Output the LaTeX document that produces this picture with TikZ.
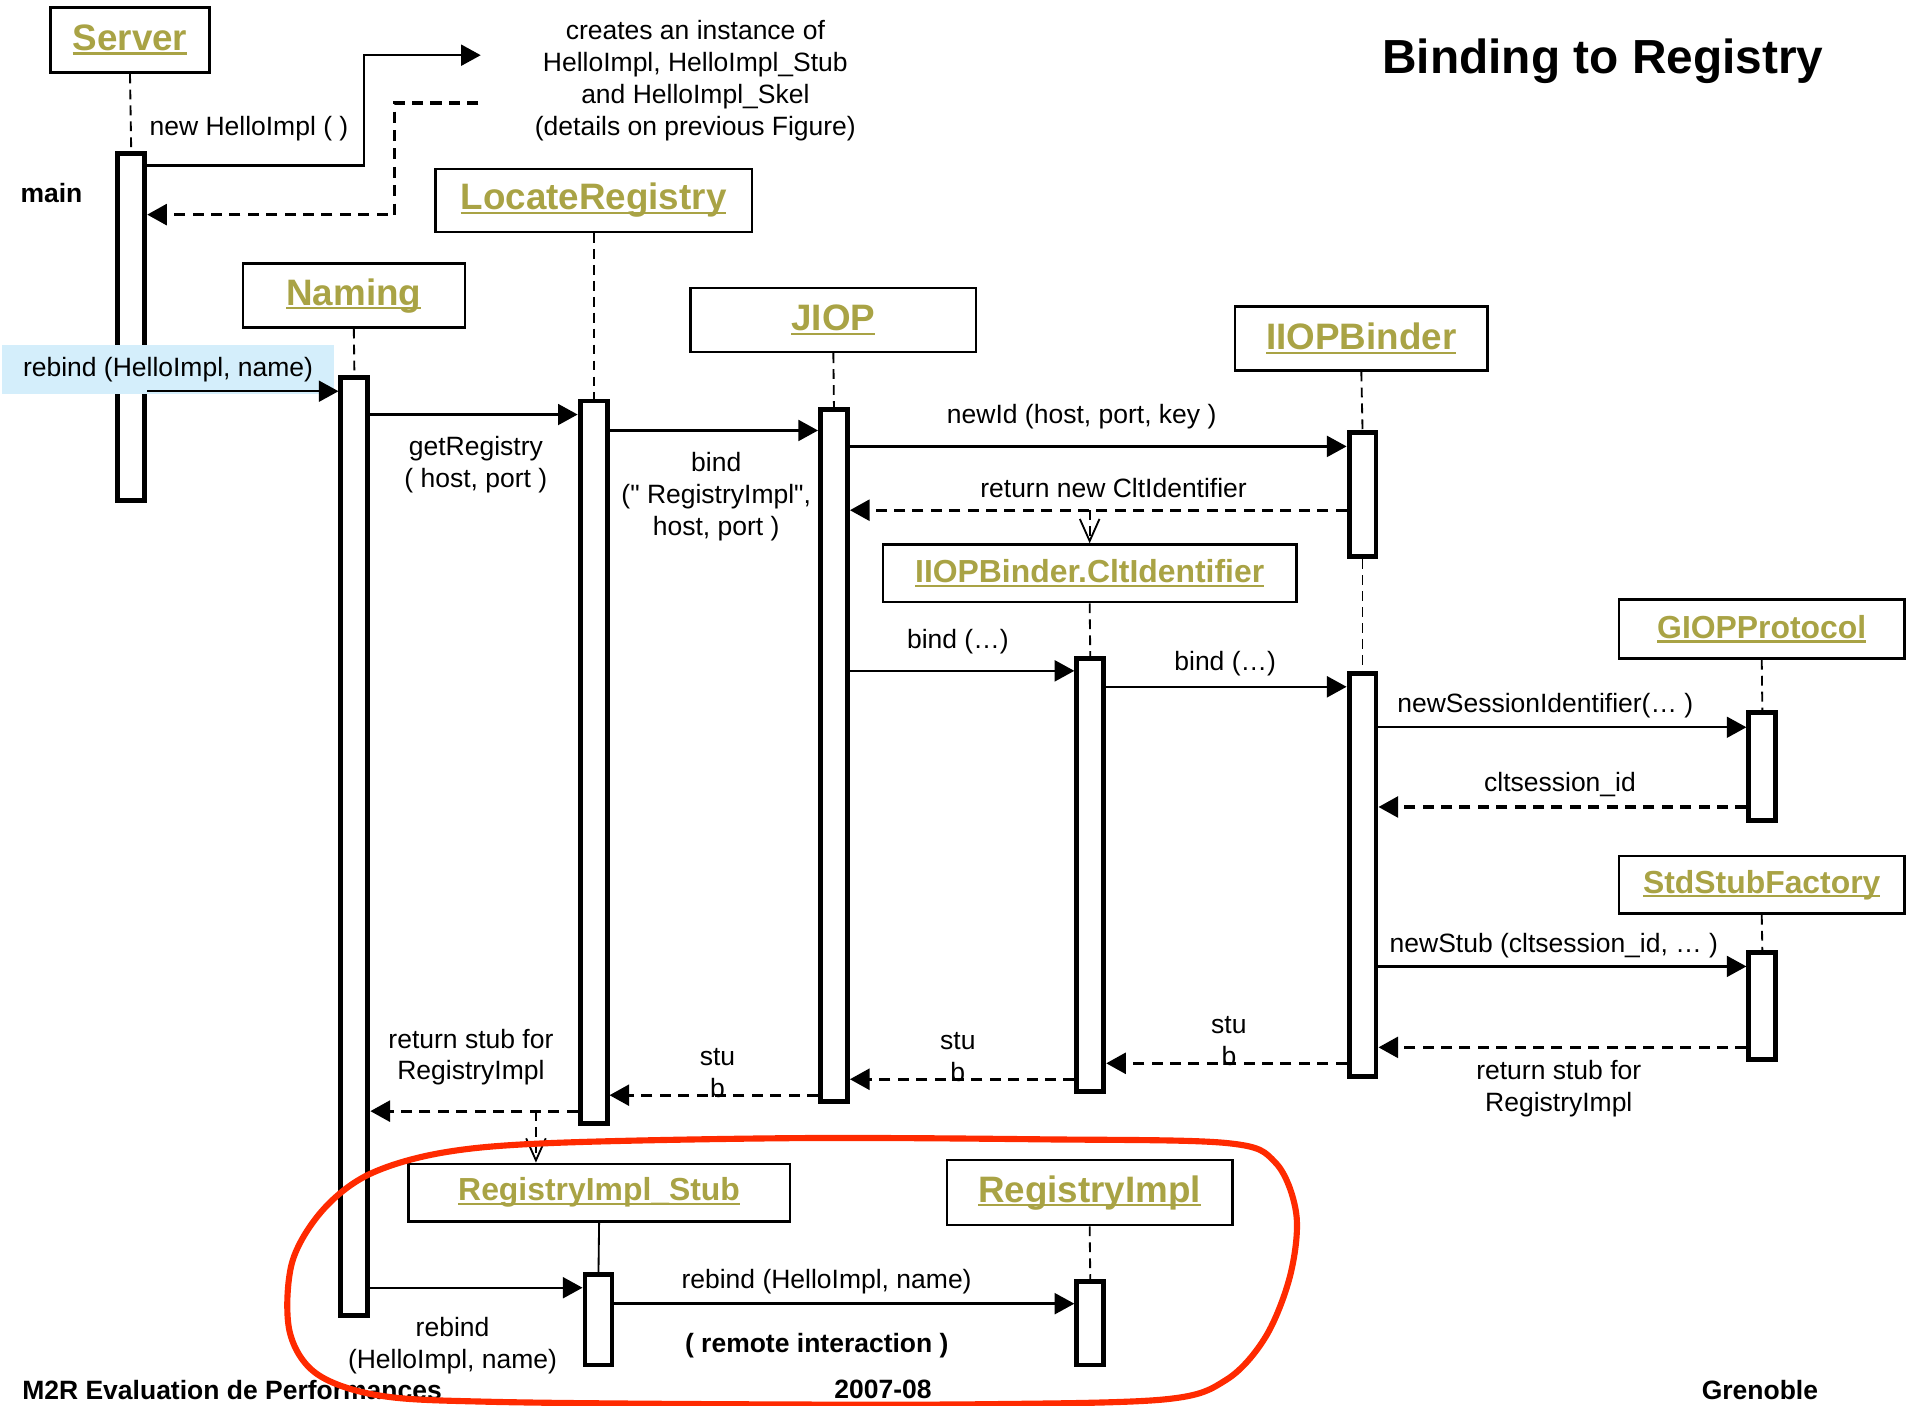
\documentclass[tikz,border=0pt]{standalone}
\usepackage{fontspec}
\setmainfont{Liberation Sans}
\usetikzlibrary{arrows.meta,calc}

\definecolor{headolive}{RGB}{169,163,69}
\definecolor{hlblue}{RGB}{212,238,251}
\definecolor{blobred}{RGB}{255,42,0}
% underlined object name
\newcommand{\objname}[1]{\setbox0=\hbox{#1}\rlap{\copy0}\rule[-3.5pt]{\wd0}{2pt}}

\begin{document}
\begin{tikzpicture}[x=1pt,y=-1pt,
  objhead/.style={draw,line width=2pt,inner sep=0pt,text=headolive,font=\fontsize{30}{34}\selectfont\bfseries},
  smallhead/.style={objhead,font=\fontsize{26}{30}\selectfont\bfseries},
  actbar/.style={draw,line width=4pt,fill=white,minimum width=22pt,inner sep=0pt},
  life/.style={line width=1.5pt,dash pattern=on 8pt off 5pt},
  msg/.style={line width=2pt,-{Triangle[length=16pt,width=17pt]}},
  ret/.style={line width=2.5pt,dash pattern=on 9pt off 6pt,-{Triangle[length=16pt,width=17pt]}},
  create/.style={line width=1.5pt,dash pattern=on 8pt off 5pt,-{Straight Barb[length=18pt,width=16pt,line width=1.5pt]}},
  lbl/.style={font=\fontsize{21.6}{26}\selectfont,align=center,inner sep=0pt},
  foot/.style={font=\fontsize{21.6}{26}\selectfont\bfseries,inner sep=0pt}]
\useasboundingbox (0,0) rectangle (1568,1146);

% title
\node[font=\fontsize{39}{44}\selectfont\bfseries] (title) at (1307,50) {Binding to Registry};

% object heads
\node[objhead,minimum width=130pt,minimum height=53pt] (server) at (106,32.5) {\objname{Server}};
\node[objhead,minimum width=258pt,minimum height=51pt] (locreg) at (484,163.5) {\objname{LocateRegistry}};
\node[objhead,minimum width=181pt,minimum height=52pt] (naming) at (288.5,241) {\objname{Naming}};
\node[objhead,minimum width=233pt,minimum height=52pt] (jiop) at (679.5,261) {\objname{JIOP}};
\node[objhead,minimum width=206pt,minimum height=52pt] (binder) at (1110,276) {\objname{IIOPBinder}};
\node[smallhead,minimum width=337pt,minimum height=47pt] (cltid) at (888.5,467.5) {\objname{IIOPBinder.CltIdentifier}};
\node[smallhead,minimum width=233pt,minimum height=48pt] (giop) at (1436.5,513) {\objname{GIOPProtocol}};
\node[smallhead,minimum width=233pt,minimum height=47pt] (stdsf) at (1436.5,721.5) {\objname{StdStubFactory}};
\node[smallhead,minimum width=311pt,minimum height=47pt] (regstub) at (488.5,972.5) {\objname{RegistryImpl\_Stub}};
\node[objhead,minimum width=233pt,minimum height=53pt] (regimpl) at (888.5,972.5) {\objname{RegistryImpl}};

% activation bars
\node[actbar,minimum height=283pt] (mainbar) at (107,266.5) {};
\node[actbar,minimum height=765pt] (namingbar) at (289,690.5) {};
\node[actbar,minimum height=589pt] (locbar) at (484,621.5) {};
\node[actbar,minimum height=564pt] (jiopbar) at (680,616) {};
\node[actbar,minimum height=101pt] (binderbarA) at (1111,403.5) {};
\node[actbar,minimum height=329pt] (binderbarB) at (1111,713.5) {};
\node[actbar,minimum height=353pt] (cltbar) at (889,713.5) {};
\node[actbar,minimum height=88pt] (giopbar) at (1437,625) {};
\node[actbar,minimum height=87pt] (stdbar) at (1437,820.5) {};
\node[actbar,minimum height=74pt] (stubbar) at (488,1076) {};
\node[actbar,minimum height=68pt] (implbar) at (889,1079) {};

% lifelines
\draw[life] (server.south) -- (mainbar.north);
\draw[life] (naming.south) -- (namingbar.north);
\draw[life] (locreg.south) -- (locbar.north);
\draw[life] (jiop.south) -- (jiopbar.north);
\draw[life] (binder.south) -- (binderbarA.north);
\draw[life] (binderbarA.south) -- (binderbarB.north);
\draw[life] (cltid.south) -- (cltbar.north);
\draw[life] (giop.south) -- (giopbar.north);
\draw[life] (stdsf.south) -- (stdbar.north);
\draw[line width=1.5pt] (regstub.south) -- (stubbar.north);
\draw[life] (regimpl.south) -- (implbar.north);

\node[font=\fontsize{21.6}{26}\selectfont\bfseries] (mainlbl) at (42,157) {main};

% creation of HelloImpl
\node[lbl] (note) at (567,66) {creates an instance of\\HelloImpl, HelloImpl\_Stub\\and HelloImpl\_Skel\\(details on previous Figure)};
\coordinate (noteIn) at (392,45);
\coordinate (noteOut) at (390,84);
\draw[line width=2pt,-{Triangle[length=16pt,width=17pt]}] (mainbar.east |- 0,135) -- (297,135) -- (297,45) -- (noteIn);
\draw[ret] (noteOut) -- (322,84) -- (322,175) -- (mainbar.east |- 0,175);
\node[lbl] (lblNew) at (203,105) {new HelloImpl ( )};

% rebind from main
\node[lbl,fill=hlblue,minimum width=270pt,minimum height=40pt] (lblRebind) at (137,301) {rebind (HelloImpl, name)};
\draw[msg] (mainbar.east |- 0,319) -- (namingbar.west |- 0,319);

% getRegistry / bind
\draw[msg] (namingbar.east |- 0,338) -- (locbar.west |- 0,338);
\node[lbl] (lblGetReg) at (388,379) {getRegistry\\( host, port )};
\draw[msg] (locbar.east |- 0,351) -- (jiopbar.west |- 0,351);
\node[lbl] (lblBind) at (584,405) {bind\\(\textquotedbl{} RegistryImpl\textquotedbl,\\host, port )};

% newId and CltIdentifier
\draw[msg] (jiopbar.east |- 0,364) -- (binderbarA.west |- 0,364);
\node[lbl] (lblNewId) at (882,340) {newId (host, port, key )};
\draw[ret] (binderbarA.west |- 0,416) -- (jiopbar.east |- 0,416);
\node[lbl] (lblRetClt) at (908,398) {return new CltIdentifier};
\draw[create] (cltid.north |- 0,416) -- (cltid.north);

% bind chain
\draw[msg] (jiopbar.east |- 0,547) -- (cltbar.west |- 0,547);
\node[lbl] (lblBind1) at (781,523) {bind (…)};
\draw[msg] (cltbar.east |- 0,560) -- (binderbarB.west |- 0,560);
\node[lbl] (lblBind2) at (999,541) {bind (…)};

% session and stub factory
\draw[msg] (binderbarB.east |- 0,593) -- (giopbar.west |- 0,593);
\node[lbl] (lblNewSess) at (1260,575) {newSessionIdentifier(… )};
\draw[ret] (giopbar.west |- 0,658) -- (binderbarB.east |- 0,658);
\node[lbl] (lblSessId) at (1272,640) {cltsession\_id};
\draw[msg] (binderbarB.east |- 0,788) -- (stdbar.west |- 0,788);
\node[lbl] (lblNewStub) at (1267,771) {newStub (cltsession\_id, … )};
\draw[ret] (stdbar.west |- 0,854) -- (binderbarB.east |- 0,854);
\node[lbl] (lblRetStub) at (1271,888) {return stub for\\RegistryImpl};

% stub returns
\draw[ret] (binderbarB.west |- 0,867) -- (cltbar.east |- 0,867);
\node[lbl] (lblStubA) at (1002,849) {stu\\b};
\draw[ret] (cltbar.west |- 0,880) -- (jiopbar.east |- 0,880);
\node[lbl] (lblStubB) at (781,862) {stu\\b};
\draw[ret] (jiopbar.west |- 0,893) -- (locbar.east |- 0,893);
\node[lbl] (lblStubC) at (585,875) {stu\\b};
\draw[ret] (locbar.west |- 0,906) -- (namingbar.east |- 0,906);
\node[lbl] (lblRetStub2) at (384,862) {return stub for\\RegistryImpl};
\draw[create] (regstub.north -| 437,0) ++(0,-42) -- (regstub.north -| 437,0);

% remote rebind
\draw[msg] (namingbar.east |- 0,1050) -- (stubbar.west |- 0,1050);
\node[lbl] (lblRebind2) at (369,1097) {rebind\\(HelloImpl, name)};
\draw[msg] (stubbar.east |- 0,1063) -- (implbar.west |- 0,1063);
\node[lbl] (lblRebind3) at (674,1045) {rebind (HelloImpl, name)};
\node[lbl,font=\fontsize{21.6}{26}\selectfont\bfseries] (lblRemote) at (666,1097) {( remote interaction )};

% footer
\node[foot,anchor=west] (footL) at (18,1133) {M2R Evaluation de Performances};
\node[foot] (footC) at (720,1133) {2007-08};
\node[foot] (footR) at (1435,1133) {Grenoble};

% red outline
\draw[blobred,line width=5pt] plot[smooth cycle,tension=0.55] coordinates {(238,1030) (262,988) (300,958) (360,940) (450,932) (650,928) (850,929) (1000,932) (1040,948) (1057,990) (1052,1040) (1032,1090) (1000,1125) (950,1141) (800,1145) (600,1145) (400,1143) (310,1138) (258,1120) (236,1085)};
\end{tikzpicture}
\end{document}
